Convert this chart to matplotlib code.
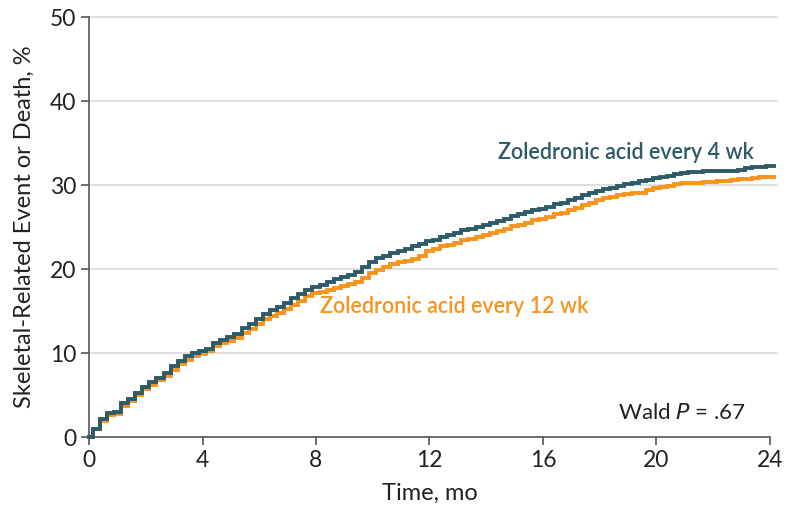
import matplotlib
matplotlib.use("Agg")
import matplotlib.pyplot as plt

plt.rcParams['font.family'] = ['Lato', 'DejaVu Sans']

every_4wk = [0, 1.0, 2.1, 2.9, 3.0, 4.0, 4.5, 5.3, 6.0, 6.5, 7.0, 7.6, 8.4, 9.0, 9.6, 10.0,
             10.3, 10.5, 11.2, 11.6, 11.9, 12.3, 13.0, 13.5, 14.0, 14.7, 15.1, 15.5, 15.9,
             16.5, 17.0, 17.5, 17.9, 18.1, 18.5, 18.8, 19.1, 19.3, 19.6, 20.2, 20.8, 21.3,
             21.6, 21.9, 22.1, 22.4, 22.8, 23.0, 23.3, 23.5, 23.8, 24.1, 24.3, 24.6, 24.8,
             25.0, 25.3, 25.5, 25.7, 26.0, 26.3, 26.5, 26.8, 27.0, 27.2, 27.4, 27.7, 27.9,
             28.2, 28.5, 28.8, 29.1, 29.3, 29.5, 29.7, 29.9, 30.1, 30.3, 30.5, 30.6, 30.8,
             31.0, 31.1, 31.3, 31.4, 31.5, 31.6, 31.7, 31.7, 31.7, 31.7, 31.7, 31.8, 32.0,
             32.1, 32.2, 32.3]
every_12wk = [0, 0.9, 1.9, 2.6, 2.8, 3.7, 4.3, 5.0, 5.7, 6.2, 6.8, 7.3, 8.0, 8.7, 9.2, 9.6,
              9.9, 10.2, 10.8, 11.2, 11.4, 11.8, 12.4, 12.9, 13.4, 14.0, 14.4, 14.8, 15.2,
              15.7, 16.2, 16.8, 17.1, 17.3, 17.5, 17.7, 18.0, 18.2, 18.5, 18.9, 19.5, 19.9,
              20.3, 20.6, 20.8, 21.0, 21.2, 21.6, 22.1, 22.4, 22.7, 22.9, 23.1, 23.4, 23.6,
              23.8, 24.1, 24.3, 24.5, 24.8, 25.1, 25.3, 25.5, 25.8, 26.0, 26.2, 26.5, 26.7,
              27.0, 27.3, 27.6, 27.9, 28.2, 28.4, 28.6, 28.8, 28.9, 29.0, 29.1, 29.4, 29.6,
              29.8, 29.9, 30.1, 30.2, 30.3, 30.3, 30.4, 30.4, 30.5, 30.5, 30.6, 30.7, 30.7,
              30.8, 30.9, 31.0]
time_step = 0.25
time_mo = [i * time_step for i in range(len(every_4wk))]
x_ticks = [0, 4, 8, 12, 16, 20, 24]
y_ticks = [0, 10, 20, 30, 40, 50]
label_4wk = "Zoledronic acid every 4 wk"
label_12wk = "Zoledronic acid every 12 wk"

c4 = '#2d5b67'
c12 = '#f7941d'

fig = plt.figure(figsize=(7.88, 5.16), dpi=100)
ax = fig.add_axes([0.113, 0.153, 0.864, 0.814])

for yv in y_ticks[1:]:
    ax.axhline(yv, color='#dcdcdc', lw=1.3, zorder=0, xmax=1.01, clip_on=False)

# extend final value slightly past 24 months as in the original
t_ext = time_mo + [time_mo[-1] + 0.15]
ax.plot(t_ext, every_12wk + [every_12wk[-1]], drawstyle='steps-mid', color=c12, lw=2.8,
        clip_on=False, zorder=3, solid_joinstyle='miter')
ax.plot(t_ext, every_4wk + [every_4wk[-1]], drawstyle='steps-mid', color=c4, lw=2.8,
        clip_on=False, zorder=4, solid_joinstyle='miter')

ax.set_xlim(0, 24)
ax.set_ylim(0, 50)
ax.set_xticks(x_ticks)
ax.set_yticks(y_ticks)
for s in ['top', 'right']:
    ax.spines[s].set_visible(False)
for s in ['left', 'bottom']:
    ax.spines[s].set_color('#555555')
    ax.spines[s].set_linewidth(1.2)
ax.tick_params(axis='both', direction='out', length=6, width=1.2, color='#555555',
               labelsize=16.5, labelcolor='#222222', pad=3)

ax.set_xlabel("Time, mo", fontsize=17, color='#222222', labelpad=9)
ax.set_ylabel("Skeletal-Related Event or Death, %", fontsize=17, color='#222222', labelpad=11)

ax.text(14.4, 33.9, label_4wk, color=c4, fontsize=15.5, fontweight='semibold', va='center', ha='left')
ax.text(8.15, 15.5, label_12wk, color=c12, fontsize=15.5, fontweight='semibold', va='center', ha='left')
ax.text(23.15, 2.9, r"Wald $\it{P}$ = .67", color='#222222', fontsize=16, va='center', ha='right')

fig.savefig("out.png", dpi=100)
